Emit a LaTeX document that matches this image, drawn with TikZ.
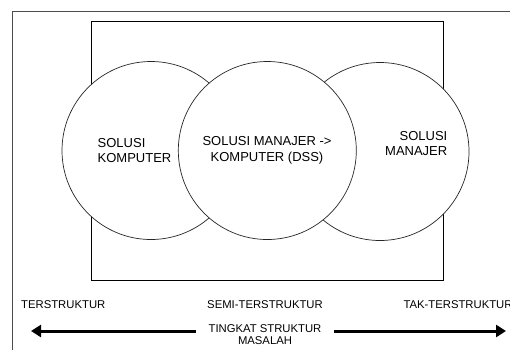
\documentclass[tikz,border=0pt]{standalone}
\usepackage{fontspec}
\setmainfont{Liberation Sans}
\usetikzlibrary{arrows.meta}
\begin{document}
\begin{tikzpicture}[x=1pt,y=-1pt,
  thinline/.style={line width=0.8pt,draw=black!85},
  bubble/.style={circle,draw=black!85,line width=0.7pt,fill=white,minimum size=178pt,inner sep=0pt},
  bigtxt/.style={font=\fontsize{13}{15.6}\selectfont,inner sep=0pt},
  smalltxt/.style={font=\fontsize{11.3}{12.6}\selectfont,inner sep=0pt},
  bigarrow/.style={line width=3pt,-{Triangle[length=10pt,width=12pt]}}]
\useasboundingbox (0,0) rectangle (510,349);
\fill[white] (0,0) rectangle (510,349);
\clip (0,0) rectangle (510,349);
% outer frame (runs off the page)
\draw[thinline,draw=black!70] (12,360) -- (12,11) -- (520,11);
% inner rectangle
\node[draw=black,line width=0.8pt,minimum width=352pt,minimum height=258.3pt,inner sep=0pt] (box) at (267.4,150.85) {};
% circles
\node[bubble] (cl) at (151,150.5) {};
\node[bubble] (cr) at (380,151.5) {};
\node[bubble] (cm) at (267.3,150.5) {};
% circle texts
\node[bigtxt,align=left,anchor=west] (tl) at (97.5,150.5) {SOLUSI\\KOMPUTER};
\node[bigtxt,align=center] (tm) at (267,150.5) {SOLUSI MANAJER ->\\KOMPUTER (DSS)};
\node[bigtxt,align=right,anchor=east] (tr) at (447.5,143.7) {SOLUSI\\MANAJER};
% bottom labels
\node[smalltxt,anchor=west] (s1) at (21,305) {TERSTRUKTUR};
\node[smalltxt] (s2) at (265,305) {SEMI-TERSTRUKTUR};
\node[smalltxt,anchor=west] (s3) at (403.3,305) {TAK-TERSTRUKTUR};
\node[smalltxt,align=center] (lbl) at (265,334.5) {TINGKAT STRUKTUR\\MASALAH};
% arrows
\coordinate (la) at (196,331);
\coordinate (lt) at (31,331);
\coordinate (ra) at (334,331);
\coordinate (rt) at (506,331);
\draw[bigarrow] (la) -- (lt);
\draw[bigarrow] (ra) -- (rt);
\end{tikzpicture}
\end{document}
